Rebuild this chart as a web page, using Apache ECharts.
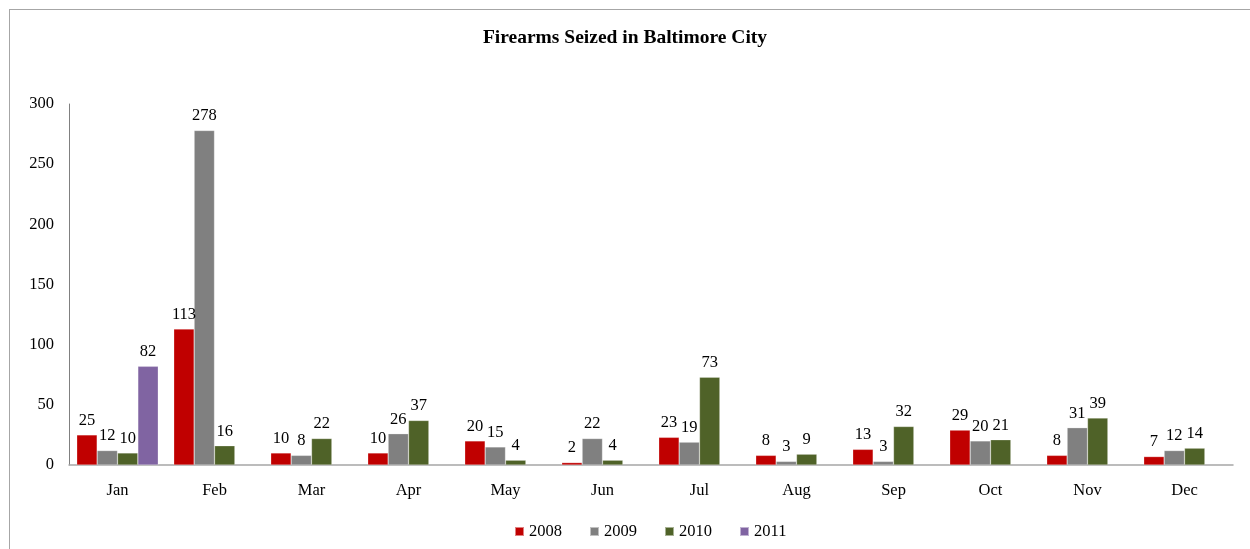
<!DOCTYPE html>
<html><head><meta charset="utf-8">
<script src="https://cdn.jsdelivr.net/npm/echarts@6/dist/echarts.min.js"></script>
<style>html,body{margin:0;padding:0;background:#fff}#c{width:1250px;height:549px;position:relative}
#frame{position:absolute;left:9px;top:9px;width:1260px;height:560px;border:1.5px solid #a6a6a6;box-sizing:border-box;pointer-events:none}</style>
</head><body><div id="c"></div>
<script>
var months = ['Jan','Feb','Mar','Apr','May','Jun','Jul','Aug','Sep','Oct','Nov','Dec'];
var s2008 = [25,113,10,10,20,2,23,8,13,29,8,7];
var s2009 = [12,278,8,26,15,22,19,3,3,20,31,12];
var s2010 = [10,16,22,37,4,4,73,9,32,21,39,14];
var s2011 = [82,null,null,null,null,null,null,null,null,null,null,null];
var yTicks = {min:0,max:300,interval:50};

var font = '"Liberation Serif","Times New Roman",serif';
var chart = echarts.init(document.getElementById('c'));
function ser(name, data, color){
  return {name:name,type:'bar',data:data,barGap:0,barCategoryGap:'16%',
    itemStyle:{color:color,borderColor:'rgba(255,255,255,0.5)',borderWidth:0.5},
    label:{show:true,position:'top',distance:6,color:'#000',fontFamily:font,fontSize:16.5}};
}
chart.setOption({
  animation:false,
  backgroundColor:'#fff',
  title:{text:'Firearms Seized in Baltimore City',left:'center',top:23,
    textStyle:{fontFamily:font,fontSize:19.5,fontWeight:'bold',color:'#000'}},
  grid:{left:69,right:17,top:104,bottom:84},
  legend:{bottom:4,left:509,itemWidth:9,itemHeight:9,itemGap:27,icon:'rect',
    textStyle:{fontFamily:font,fontSize:16.5,color:'#000'}},
  xAxis:{type:'category',data:months,
    axisLine:{lineStyle:{color:'#a6a6a6',width:1.5}},axisTick:{show:false},
    axisLabel:{fontFamily:font,fontSize:16.5,color:'#000',margin:17}},
  yAxis:{type:'value',min:yTicks.min,max:yTicks.max,interval:yTicks.interval,
    splitLine:{show:false},axisLine:{show:true,lineStyle:{color:'#808080',width:1}},axisTick:{show:false},
    axisLabel:{fontFamily:font,fontSize:16.5,color:'#000',margin:15}},
  series:[ser('2008',s2008,'#C00000'),ser('2009',s2009,'#808080'),ser('2010',s2010,'#4F6228'),ser('2011',s2011,'#8064A2')]
});
</script>
<div id="frame"></div>
</body></html>
